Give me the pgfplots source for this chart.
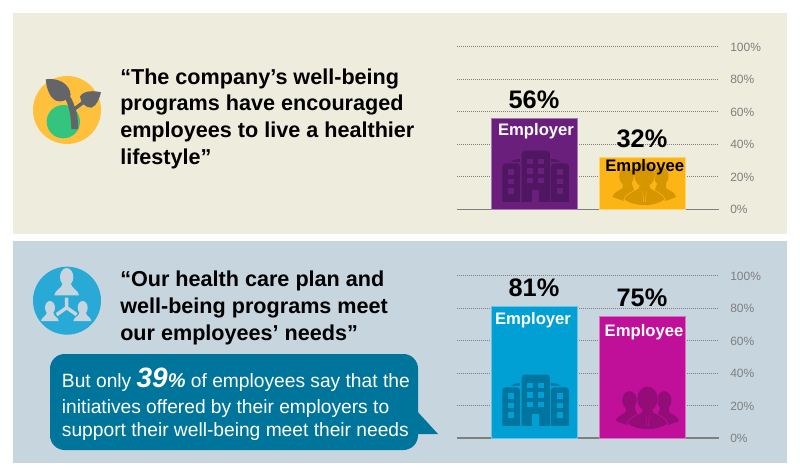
\documentclass[border=0pt]{standalone}
\usepackage{pgfplots}
\pgfplotsset{compat=1.18}
\usepackage{fontspec}
\setmainfont{Liberation Sans}
\definecolor{panelA}{HTML}{EEECDD}
\definecolor{panelB}{HTML}{C7D5DF}
\definecolor{barPurple}{HTML}{6B1F7C}
\definecolor{darkPurple}{HTML}{4F1661}
\definecolor{barYellow}{HTML}{FDB515}
\definecolor{darkYellow}{HTML}{D69600}
\definecolor{barBlue}{HTML}{009FD4}
\definecolor{darkBlue}{HTML}{0075A0}
\definecolor{barMag}{HTML}{C0109A}
\definecolor{darkMag}{HTML}{940C78}
\definecolor{callout}{HTML}{00759B}
\definecolor{tickgray}{HTML}{7F7F7F}
\definecolor{iconY}{HTML}{FFC13D}
\definecolor{iconG}{HTML}{33C57D}
\definecolor{iconGr}{HTML}{636569}
\definecolor{iconB}{HTML}{29A9D6}
\pgfplotsset{
  panelaxis/.style={
    scale only axis, width=196.5pt, height=121.9pt,
    anchor=south west, clip=false,
    xmin=-0.713, xmax=1.713, ymin=0, ymax=100,
    ybar, bar width=64.5pt, bar shift=0pt,
    xtick=\empty, ytick={0,20,40,60,80,100},
    yticklabels={0\%,20\%,40\%,60\%,80\%,100\%},
    yticklabel pos=right, major tick length=0pt,
    yticklabel style={anchor=west, inner sep=0pt, xshift=8.25pt, yshift=-0.4pt, font=\fontsize{9}{9}\selectfont, text=tickgray},
    separate axis lines,
    y axis line style={draw=none},
    x axis line style={draw=tickgray, line width=1.1pt, -},
    axis x line*=bottom, axis y line*=right,
    ymajorgrids, grid style={draw=tickgray, line width=0.6pt, dash pattern=on 1.1pt off 0.4pt},
    nodes near coords={\pgfmathprintnumber[assume math mode=true]{\pgfplotspointmeta}\%},
    every node near coord/.append style={font=\bfseries\fontsize{19}{19}\selectfont, text=black, anchor=base, inner sep=0pt, yshift=7.5pt},
  }
}
\newcommand{\buildingicon}[4]{%
\begin{scope}[shift={(#1,#2)},x=0.25pt,y=-0.25pt]
 \fill[#3,rounded corners=2.5pt] (58,10) -- (58,-154) -- (143,-154) -- (143,10) -- cycle;
 \fill[#3,rounded corners=2.5pt] (0,10) -- (0,-116) -- (53,-116) -- (53,10) -- cycle;
 \fill[#3,rounded corners=2.5pt] (146,10) -- (146,-116) -- (200,-116) -- (200,10) -- cycle;
 \fill[#4] (-4,0) rectangle (204,12);
 \fill[#4] (90,0) rectangle (111,-36);
 \fill[#3] (25,-121) to[bend left=15] (53,-129) -- (53,-121) -- cycle;
 \fill[#3] (146,-129) to[bend left=15] (175,-121) -- (146,-121) -- cycle;
 \foreach \yy in {-129,-101,-73}{
   \fill[#4] (75,\yy) rectangle ++(18,16);
   \fill[#4] (106,\yy) rectangle ++(18,16);
 }
 \foreach \yy in {-98,-70,-41}{
   \fill[#4] (18,\yy) rectangle ++(17,17);
   \fill[#4] (163,\yy) rectangle ++(18,17);
 }
\end{scope}}
\newcommand{\peopleicon}[4]{%
\begin{scope}[shift={(#1,#2)},x=0.25pt,y=-0.25pt]
 \fill[#3] (-54,-88) ellipse (22 and 27);
 \fill[#3] (50,-88) ellipse (22 and 27);
 \fill[#3] (-96,-26) .. controls (-92,-40) and (-76,-44) .. (-66,-52) -- (-66,-70) -- (-40,-70) -- (-30,-44) -- (-62,-14) .. controls (-72,-17) and (-84,-21) .. (-96,-26) -- cycle;
 \fill[#3] (95,-26) .. controls (91,-40) and (75,-44) .. (65,-52) -- (65,-70) -- (40,-70) -- (30,-44) -- (62,-14) .. controls (72,-17) and (84,-21) .. (95,-26) -- cycle;
 \fill[#3,draw=#4,line width=0.45pt] (-62,-18) .. controls (-58,-34) and (-34,-42) .. (-18,-52) -- (-18,-66) -- (18,-66) -- (18,-52) .. controls (34,-42) and (58,-34) .. (62,-18) .. controls (30,6) and (-30,6) .. (-62,-18) -- cycle;
 \fill[#3,draw=#4,line width=0.45pt] (0,-92) ellipse (32 and 38);
 \fill[#3] (-17,-58) rectangle (17,-48);
 \draw[#4,line width=0.35pt] (-5,-44) -- (-3,-10);
 \draw[#4,line width=0.35pt] (5,-44) -- (3,-10);
\end{scope}}
\begin{document}
\begin{tikzpicture}
\begin{scope}[x=0.75pt,y=-0.75pt]
 \path[fill=white] (0,0) rectangle (800,475);
 \fill[panelA] (13,13) rectangle (787,234);
 \fill[panelB] (13,241) rectangle (787,463);
\end{scope}

\begin{axis}[panelaxis, at={(342.75pt,-156.98pt)}]
 \addplot[fill=barPurple, draw=barPurple!60!white, line width=0.4pt] coordinates {(0,56)};
 \addplot[fill=barYellow, draw=barYellow!60!white, line width=0.4pt] coordinates {(1,32)};
\end{axis}
\begin{axis}[panelaxis, at={(342.75pt,-328.5pt)}]
 \addplot[fill=barBlue, draw=barBlue!60!white, line width=0.4pt] coordinates {(0,81)};
 \addplot[fill=barMag, draw=barMag!60!white, line width=0.4pt] coordinates {(1,75)};
\end{axis}

\begin{scope}[x=0.75pt,y=-0.75pt]
 \buildingicon{502.3}{202}{darkPurple}{barPurple}
 \buildingicon{502.3}{426}{darkBlue}{barBlue}
 \peopleicon{644.5}{205.5}{darkYellow}{barYellow}
 \peopleicon{647.5}{429.5}{darkMag}{barMag}
 \tikzset{barlab/.style={anchor=base, inner sep=0pt, font=\bfseries\fontsize{12.5}{12.5}\selectfont}}
 \node[barlab,text=white] at (536,135.7) {Employer};
 \node[barlab,text=black] at (644.7,171.7) {Employee};
 \node[barlab,text=white] at (533,324) {Employer};
 \node[barlab,text=white] at (644,336) {Employee};
 \tikzset{quote/.style={anchor=base west, inner sep=0pt, font=\bfseries\fontsize{16.2}{16.2}\selectfont}}
 \node[quote] at (120,84) {“The company’s well-being};
 \node[quote] at (120,110.5) {programs have encouraged};
 \node[quote] at (120,137) {employees to live a healthier};
 \node[quote] at (120,164) {lifestyle”};
 \node[quote] at (120,286) {“Our health care plan and};
 \node[quote] at (120,313) {well-being programs meet};
 \node[quote] at (120,340) {our employees’ needs”};
 \fill[callout,rounded corners=11pt] (50,354) rectangle (418,450);
 \fill[callout] (416,410) -- (438,434) -- (416,434) -- cycle;
 \tikzset{cal/.style={anchor=base west, inner sep=0pt, text=white, font=\fontsize{14.4}{14.4}\selectfont}}
 \node[cal] at (61.7,387) {But only {\bfseries\itshape\fontsize{21}{21}\selectfont 39}{\bfseries\itshape\fontsize{15}{15}\selectfont\%} of employees say that the};
 \node[cal] at (61.7,413) {initiatives offered by their employers to};
 \node[cal] at (61.7,436) {support their well-being meet their needs};
 \begin{scope}[shift={(20,60)},x=0.25pt,y=-0.25pt]
  \fill[iconY] (141,150) circle (102);
  \fill[iconG] (130,185) circle (50);
  \fill[iconGr] (77,58) .. controls (115,52) and (150,72) .. (152,105) .. controls (142,122) and (122,128) .. (108,122) .. controls (88,112) and (80,85) .. (77,58) -- cycle;
  \fill[iconGr] (243,97) .. controls (225,92) and (190,90) .. (180,110) .. controls (182,128) and (198,145) .. (215,143) .. controls (232,135) and (238,115) .. (243,97) -- cycle;
  \fill[iconGr] (128,105) .. controls (148,130) and (153,170) .. (154,207) -- (174,207) .. controls (175,185) and (172,165) .. (168,150) -- (197,128) -- (190,120) -- (164,140) .. controls (160,125) and (152,112) .. (145,100) -- cycle;
 \end{scope}
 \begin{scope}[shift={(20,255)},x=0.25pt,y=-0.25pt]
  \fill[iconB] (141,137) circle (102);
  \fill[panelB] (140,66) ellipse (20 and 27);
  \fill[panelB] (103,121) .. controls (104,105) and (124,102) .. (128,86) -- (152,86) .. controls (156,102) and (176,105) .. (177,121) -- cycle;
  \fill[panelB] (90,158) ellipse (15 and 20);
  \fill[panelB] (63,198) .. controls (64,187) and (78,185) .. (81,172) -- (99,172) .. controls (102,185) and (115,187) .. (116,198) -- cycle;
  \fill[panelB] (188,158) ellipse (15 and 20);
  \fill[panelB] (160,198) .. controls (161,187) and (176,185) .. (179,172) -- (197,172) .. controls (200,185) and (213,187) .. (214,198) -- cycle;
  \draw[panelB,line width=2.6pt] (140,128) -- (140,158) (110,179) -- (140,158) -- (170,179);
 \end{scope}
\end{scope}
\end{tikzpicture}
\end{document}
